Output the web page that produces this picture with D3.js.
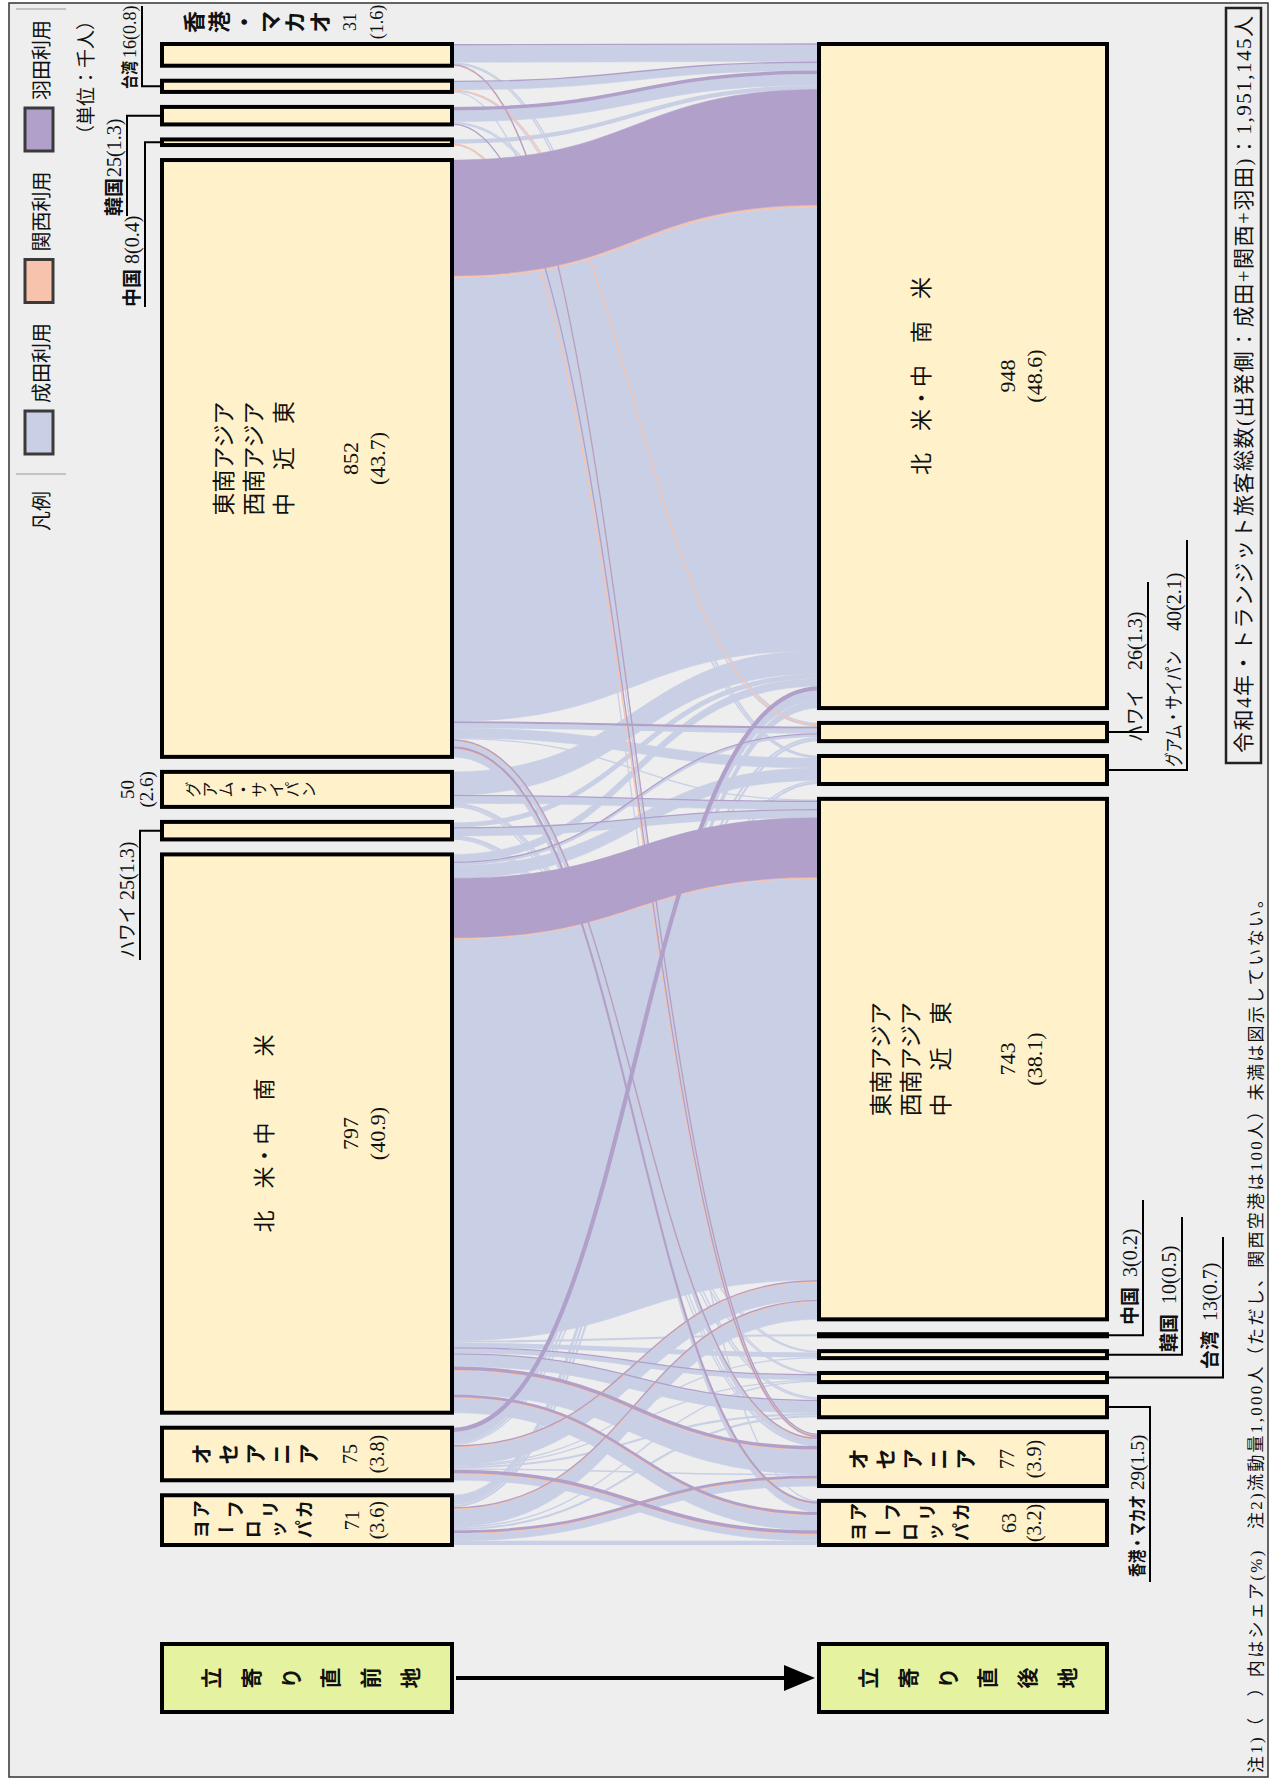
<!DOCTYPE html>
<html lang="ja">
<head>
<meta charset="UTF-8">
<title>令和4年 トランジット旅客 流動図</title>
<script src="https://cdn.jsdelivr.net/npm/d3@7"></script>
<style>
  body { margin: 0; background: #fff; }
  svg { display: block; }
  .jp { font-family: "Noto Sans CJK JP", sans-serif; fill: #111; }
  .num { font-family: "Liberation Serif", "DejaVu Serif", serif; fill: #111; }
  .mix { font-family: "Liberation Serif", "Noto Sans CJK JP", serif; fill: #111; }
</style>
</head>
<body>
<div id="chart"></div>
<script>
// 立寄り直前地（横置きの図で左→右の順）
const prevKeys   = ["EU", "OC", "NA", "HI", "GU", "SEA", "CN", "KR", "TW", "HK"];
const prevValues = [71, 75, 797, 25, 50, 852, 8, 25, 16, 31];
const prevShares = ["3.6", "3.8", "40.9", "1.3", "2.6", "43.7", "0.4", "1.3", "0.8", "1.6"];

// 立寄り直後地
const nextKeys   = ["EU", "OC", "HK", "TW", "KR", "CN", "SEA", "GU", "HI", "NA"];
const nextValues = [63, 77, 29, 13, 10, 3, 743, 40, 26, 948];
const nextShares = ["3.2", "3.9", "1.5", "0.7", "0.5", "0.2", "38.1", "2.1", "1.3", "48.6"];

// 流動量（千人）: 直前地 → 直後地, 成田 / 関西 / 羽田
const flowFrom   = ["HK","HK","HK","HK","TW","TW","TW","TW","KR","KR","KR","KR","CN","CN","CN",
                    "SEA","SEA","SEA","SEA","SEA","SEA",
                    "GU","GU","GU","GU","GU","GU",
                    "HI","HI","HI","HI","HI","HI",
                    "NA","NA","NA","NA","NA","NA","NA","NA","NA","NA",
                    "OC","OC","OC","OC","OC","OC","OC","OC","OC",
                    "EU","EU","EU","EU","EU","EU","EU","EU"];
const flowTo     = ["NA","HI","GU","OC","NA","HI","GU","OC","NA","HI","GU","OC","NA","OC","EU",
                    "NA","HI","GU","SEA","OC","EU",
                    "NA","SEA","HK","TW","KR","OC",
                    "NA","SEA","HK","TW","KR","OC",
                    "NA","HI","GU","SEA","CN","KR","TW","HK","OC","EU",
                    "NA","HI","GU","SEA","HK","KR","TW","OC","EU",
                    "NA","HI","GU","SEA","TW","HK","OC","EU"];
const flowNarita = [24,2,1,0, 11,0,1,1, 16,2,1,0, 6,0,1,
                    633,7,14,2,7,11,
                    33,11,2,1,1,1,
                    7,11,2,1,1,1,
                    11,4,18,573,3,7,7,17,34,21,
                    14,3,2,25,3,1,1,2,9,
                    11,3,3,25,2,3,10,6];
const flowKansai = [0,0,0,1, 0,1,0,0, 0,0,0,0, 0,1,0,
                    3,0,0,0,1,1,
                    0,0,0,0,0,0,
                    0,0,0,0,0,0,
                    0,0,0,2,0,0,0,0,1,1,
                    0,0,0,1,0,0,0,0,1,
                    0,0,0,1,0,0,1,0];
const flowHaneda = [2,0,0,1, 2,0,0,0, 5,0,0,1, 0,0,0,
                    165,3,0,0,2,3,
                    0,1,0,0,0,0,
                    0,1,0,0,0,0,
                    0,1,0,85,0,0,1,2,5,4,
                    6,0,0,2,0,0,0,0,5,
                    0,0,0,2,0,0,4,0];

const regionNames = {
  HK: "香港・マカオ", TW: "台湾", KR: "韓国", CN: "中国",
  HI: "ハワイ", GU: "グアム・サイパン"
};

// ---- 横置きの座標系で描いて、最後に90度回転 ----
const W = 1780, H = 1274;
const topY0 = 162, topY1 = 452;     // 直前地の段
const botY0 = 819, botY1 = 1107;    // 直後地の段
const xStart = 235, xEnd = 1736;
const ym = (topY1 + botY0) / 2;

const vScale = d3.scaleLinear().domain([0, 1950]).range([0, 1366]);

function layoutRow(keys, values, shares) {
  const gap = ((xEnd - xStart) - vScale(d3.sum(values))) / (keys.length - 1);
  let x = xStart;
  return keys.map((key, i) => {
    const n = { key, value: values[i], share: shares[i], x, w: vScale(values[i]) };
    n.cx = x + n.w / 2;
    x += n.w + gap;
    return n;
  });
}
const prevNodes = layoutRow(prevKeys, prevValues, prevShares);
const nextNodes = layoutRow(nextKeys, nextValues, nextShares);
const prevByKey = new Map(prevNodes.map(n => [n.key, n]));
const nextByKey = new Map(nextNodes.map(n => [n.key, n]));

const airports = [
  { name: "成田利用", values: flowNarita, color: "#c9cfe5" },
  { name: "関西利用", values: flowKansai, color: "#f8c3ad" },
  { name: "羽田利用", values: flowHaneda, color: "#b0a0ca" }
];

const flows = flowFrom.map((f, i) => ({
  s: prevByKey.get(f),
  t: nextByKey.get(flowTo[i]),
  vals: airports.map(a => a.values[i])
}));

// 出発側・到着側でのバンド位置
prevNodes.forEach(n => {
  let c = n.x;
  flows.filter(f => f.s === n)
    .sort((a, b) => nextKeys.indexOf(a.t.key) - nextKeys.indexOf(b.t.key))
    .forEach(f => { f.sx = f.vals.map(v => { const p = c; c += vScale(v); return p; }); });
});
nextNodes.forEach(n => {
  let c = n.x;
  flows.filter(f => f.t === n)
    .sort((a, b) => prevKeys.indexOf(a.s.key) - prevKeys.indexOf(b.s.key))
    .forEach(f => { f.tx = f.vals.map(v => { const p = c; c += vScale(v); return p; }); });
});

const svg = d3.select("#chart").append("svg")
  .attr("width", H).attr("height", W);

const g = svg.append("g")
  .attr("transform", `translate(0,${W}) rotate(-90)`);

// 枠
g.append("rect").attr("x", 3).attr("y", 9).attr("width", 1774).attr("height", 1259)
  .attr("fill", "#eeeeee").attr("stroke", "#333").attr("stroke-width", 1.5);

// ---- 流動 ----
function ribbonPath(sx, tx, w) {
  const p = d3.path();
  p.moveTo(sx, topY1);
  p.bezierCurveTo(sx, ym, tx, ym, tx, botY0);
  p.lineTo(tx + w, botY0);
  p.bezierCurveTo(tx + w, ym, sx + w, ym, sx + w, topY1);
  p.closePath();
  return p.toString();
}
const linkGen = d3.linkVertical().x(d => d[0]).y(d => d[1]);

const linkLayer = g.append("g");
airports.forEach((a, ai) => {
  const items = flows.filter(f => f.vals[ai] > 0);
  const layer = linkLayer.append("g");
  items.forEach(f => {
    const w = vScale(f.vals[ai]);
    if (w >= 5) {
      layer.append("path")
        .attr("d", ribbonPath(f.sx[ai], f.tx[ai], w))
        .attr("fill", a.color).attr("stroke", a.color).attr("stroke-width", 0.5);
    } else {
      layer.append("path")
        .attr("d", linkGen({ source: [f.sx[ai] + w / 2, topY1], target: [f.tx[ai] + w / 2, botY0] }))
        .attr("fill", "none").attr("stroke", a.color)
        .attr("stroke-width", Math.max(w, 1.3));
    }
  });
});

// ---- ノード ----
const nodeLayer = g.append("g");
nodeLayer.selectAll("rect.prev").data(prevNodes).join("rect")
  .attr("x", d => d.x).attr("y", topY0).attr("width", d => d.w).attr("height", topY1 - topY0)
  .attr("fill", "#fff2cb").attr("stroke", "#000").attr("stroke-width", 4);
nodeLayer.selectAll("rect.next").data(nextNodes).join("rect")
  .attr("x", d => d.x).attr("y", botY0).attr("width", d => d.w).attr("height", botY1 - botY0)
  .attr("fill", "#fff2cb").attr("stroke", "#000").attr("stroke-width", 4);

// 立寄り直前地 → 立寄り直後地 の箱と矢印（文字はラベル層に）
const stageBoxes = [["立寄り直前地", topY0, topY1], ["立寄り直後地", botY0, botY1]];
stageBoxes.forEach(([, a, b]) => {
  g.append("rect").attr("x", 68).attr("y", a).attr("width", 68).attr("height", b - a)
    .attr("fill", "#e5f3a0").attr("stroke", "#000").attr("stroke-width", 4);
});
g.append("line").attr("x1", 102).attr("x2", 102).attr("y1", 456).attr("y2", 790)
  .attr("stroke", "#000").attr("stroke-width", 4);
g.append("path").attr("d", "M102,815L89,784L115,784Z").attr("fill", "#000");

const labels = g.append("g");

function vChars(str, cx, y0, y1, size, weight) {
  const chars = Array.from(str);
  const step = chars.length > 1 ? (y1 - y0) / (chars.length - 1) : 0;
  chars.forEach((ch, i) => {
    const y = y0 + i * step;
    const t = labels.append("text").attr("class", "jp")
      .attr("x", cx).attr("y", y)
      .attr("text-anchor", "middle").attr("dominant-baseline", "central")
      .attr("font-size", size).attr("font-weight", weight).text(ch);
    if (ch === "ー") t.attr("transform", `rotate(90 ${cx} ${y})`);
  });
}
function numPair(cx, top, value, share, size, dy1 = 188, dy2 = 215) {
  labels.append("text").attr("class", "num").attr("x", cx).attr("y", top + dy1)
    .attr("text-anchor", "middle").attr("dominant-baseline", "central")
    .attr("font-size", size).text(value);
  labels.append("text").attr("class", "num").attr("x", cx).attr("y", top + dy2)
    .attr("text-anchor", "middle").attr("dominant-baseline", "central")
    .attr("font-size", size).text(`(${share})`);
}
function hLines(lines, cx, top, offsets, size) {
  lines.forEach((s, i) => {
    labels.append("text").attr("class", "jp").attr("x", cx).attr("y", top + offsets[i])
      .attr("text-anchor", "middle").attr("dominant-baseline", "central")
      .attr("font-size", size).text(s);
  });
}

stageBoxes.forEach(([s, a]) => vChars(s, 102, a + 48, a + 247, 21, 700));

[[prevByKey, topY0], [nextByKey, botY0]].forEach(([byKey, top]) => {
  const sea = byKey.get("SEA"), na = byKey.get("NA"), oc = byKey.get("OC"), eu = byKey.get("EU");
  hLines(["東南アジア", "西南アジア", "中　近　東"], sea.cx, top, [60, 90, 120], 23);
  numPair(sea.cx, top, sea.value, sea.share, 22);
  hLines(["北　米・中　南　米"], na.cx, top, [100], 22);
  numPair(na.cx, top, na.value, na.share, 22);
  vChars("オセアニア", oc.cx, top + 38, top + 145, 21, 700);
  numPair(oc.cx, top, oc.value, oc.share, 20);
  vChars("ヨーロッパ", eu.cx - 9, top + 38, top + 141, 18, 700);
  vChars("アフリカ", eu.cx + 11, top + 38, top + 141, 18, 700);
  numPair(eu.cx, top, eu.value, eu.share, 20, 190, 215);
});

// グアム・サイパン（直前地）と香港・マカオ（直前地）
const guP = prevByKey.get("GU");
vChars("グアム・サイパン", guP.cx, 192, 308, 16, 400);
numPair(guP.cx, 0, guP.value, guP.share, 19, 127, 146);
const hkP = prevByKey.get("HK");
vChars(regionNames.HK, 1758, 192, 318, 22, 700);
numPair(1758, 0, hkP.value, hkP.share, 18, 350, 377);

// 引出し線付きラベル（名称の後ろに数値を続ける）
const leaders = [
  { row: "prev", key: "TW", lineY: 142, endX: 1774, nx: 1691, nw: 28, gap: 3, ty: 136, bold: true, size: 17 },
  { row: "prev", key: "KR", lineY: 127, endX: 1564, nx: 1564, gap: 1, ty: 121, bold: true },
  { row: "prev", key: "CN", lineY: 145, endX: 1473, nx: 1473, gap: 5, ty: 139, bold: true },
  { row: "prev", key: "HI", lineY: 140, endX: 820, nx: 822, nw: 52, gap: 6, ty: 134, bold: false },
  { row: "next", key: "HI", lineY: 1148, endX: 1198, nx: 1038, nw: 52, gap: 20, ty: 1142, bold: false },
  { row: "next", key: "GU", lineY: 1187, endX: 1240, nx: 1013, nw: 116, gap: 20, ty: 1181, bold: false },
  { row: "next", key: "CN", lineY: 1143, endX: 580, nx: 455, gap: 10, ty: 1137, bold: true },
  { row: "next", key: "KR", lineY: 1182, endX: 563, nx: 428, gap: 10, ty: 1176, bold: true },
  { row: "next", key: "TW", lineY: 1223, endX: 543, nx: 411, gap: 10, ty: 1217, bold: true },
  { row: "next", key: "HK", lineY: 1150, endX: 198, nx: 203, nw: 82, gap: 5, ty: 1144, bold: true, size: 18 }
];
leaders.forEach(L => {
  const n = (L.row === "prev" ? prevByKey : nextByKey).get(L.key);
  const edge = L.row === "prev" ? topY0 - 2 : botY1 + 2;
  const size = L.size || 19;
  labels.append("path")
    .attr("d", `M${n.cx},${edge}V${L.lineY}H${L.endX}`)
    .attr("fill", "none").attr("stroke", "#000").attr("stroke-width", 2);
  const nm = labels.append("text").attr("class", "jp")
    .attr("x", L.nx).attr("y", L.ty).attr("font-size", size)
    .attr("font-weight", L.bold ? 700 : 400).text(regionNames[L.key]);
  if (L.nw) nm.attr("textLength", L.nw).attr("lengthAdjust", "spacingAndGlyphs");
  const len = L.nw || nm.node().getComputedTextLength();
  labels.append("text").attr("class", "num")
    .attr("x", L.nx + len + L.gap).attr("y", L.ty).attr("font-size", size + 1)
    .text(`${n.value}(${n.share})`);
});

// ---- 凡例 ----
const legend = g.append("g");
legend.append("line").attr("x1", 1306).attr("x2", 1306).attr("y1", 16).attr("y2", 66)
  .attr("stroke", "#999").attr("stroke-width", 1);
legend.append("line").attr("x1", 1771).attr("x2", 1771).attr("y1", 16).attr("y2", 66)
  .attr("stroke", "#999").attr("stroke-width", 1);
legend.append("text").attr("class", "jp").attr("x", 1269).attr("y", 40)
  .attr("text-anchor", "middle").attr("dominant-baseline", "central").attr("font-size", 20).text("凡例");
const legendX = d3.scalePoint().domain(airports.map(a => a.name)).range([1326, 1629]);
airports.forEach(a => {
  const x = legendX(a.name);
  legend.append("rect").attr("x", x).attr("y", 25).attr("width", 43).attr("height", 28)
    .attr("fill", a.color).attr("stroke", "#3a3a3a").attr("stroke-width", 3);
  legend.append("text").attr("class", "jp").attr("x", x + 51).attr("y", 40)
    .attr("dominant-baseline", "central").attr("font-size", 20).text(a.name);
});
legend.append("text").attr("class", "jp").attr("x", 1769).attr("y", 84)
  .attr("text-anchor", "end").attr("dominant-baseline", "central").attr("font-size", 19)
  .text("（単位：千人）");

// ---- 表題と注記 ----
g.append("rect").attr("x", 1017).attr("y", 1226).attr("width", 755).attr("height", 35)
  .attr("fill", "none").attr("stroke", "#222").attr("stroke-width", 2.5);
g.append("text").attr("class", "mix").attr("x", 1027).attr("y", 1244)
  .attr("dominant-baseline", "central").attr("font-size", 21)
  .attr("textLength", 737).attr("lengthAdjust", "spacing")
  .text("令和4年・トランジット旅客総数(出発側：成田+関西+羽田)：1,951,145人");
g.append("text").attr("class", "mix").attr("x", 7).attr("y", 1256)
  .attr("dominant-baseline", "central").attr("font-size", 17)
  .attr("textLength", 882).attr("lengthAdjust", "spacing")
  .text("注1)（　）内はシェア(%)　注2)流動量1,000人（ただし、関西空港は100人）未満は図示していない。");
</script>
</body>
</html>
